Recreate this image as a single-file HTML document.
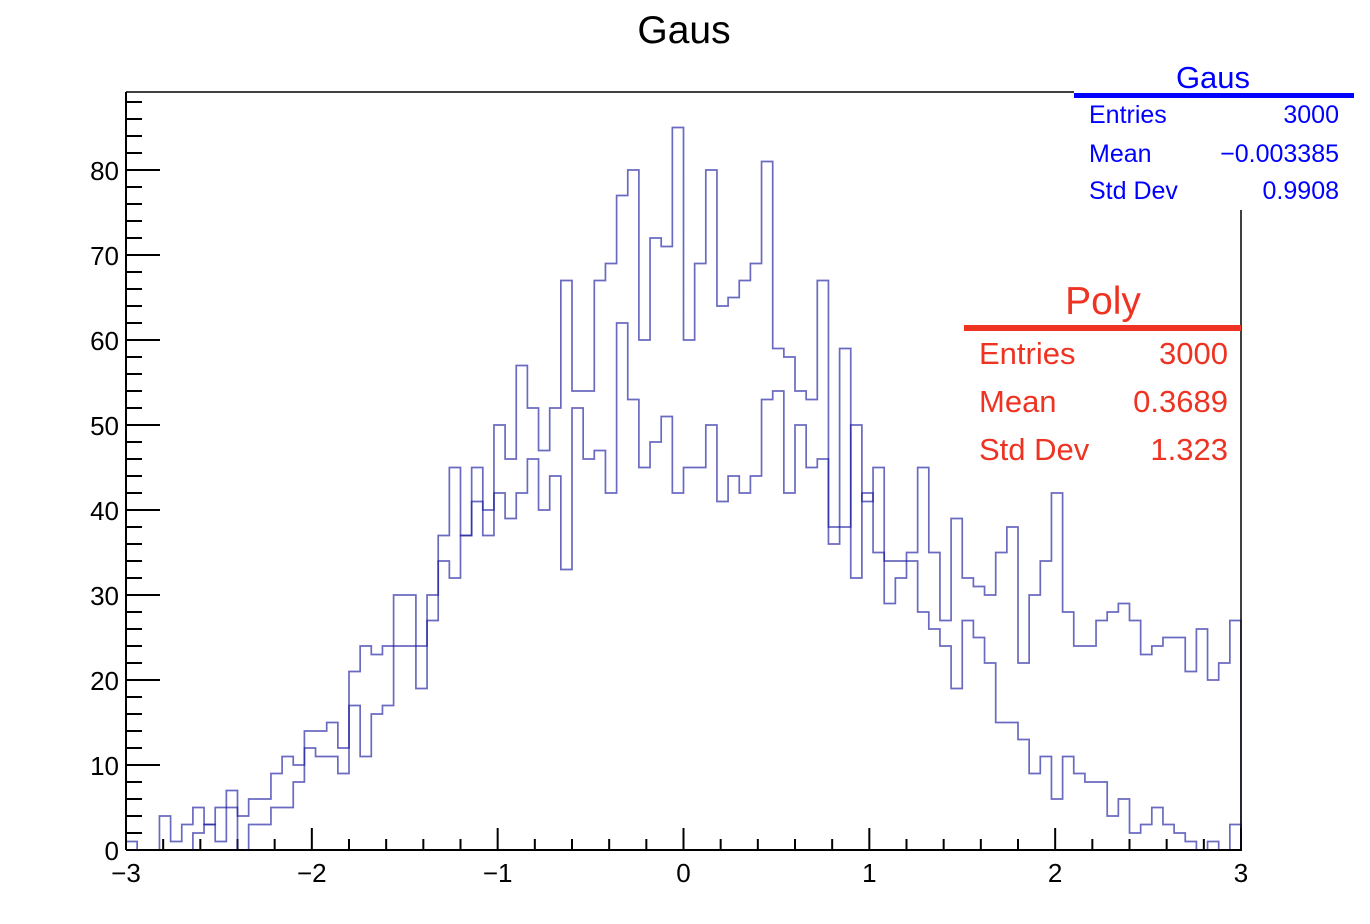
<!DOCTYPE html>
<html><head><meta charset="utf-8"><style>
html,body{margin:0;padding:0;background:#fff;}
svg{display:block;font-family:"Liberation Sans",Arial,sans-serif;}
</style></head><body>
<svg id="chart" width="1370" height="924" viewBox="0 0 1370 924" xmlns="http://www.w3.org/2000/svg">
<rect x="0" y="0" width="1370" height="924" fill="#fff"/>
<text x="684" y="43" font-size="39" text-anchor="middle" fill="#000">Gaus</text>
<g id="axes"></g>
<g id="series"></g>
<g id="frame">
<line x1="126" y1="92" x2="126" y2="850" stroke="#000" stroke-width="2"/>
<line x1="126" y1="850" x2="1242" y2="850" stroke="#000" stroke-width="2"/>
<line x1="126" y1="92" x2="1074" y2="92" stroke="#000" stroke-width="1.5"/>
<line x1="1241" y1="210" x2="1241" y2="850" stroke="#000" stroke-width="1.5"/>
</g>
<g>
<rect x="1074" y="56" width="280" height="154" fill="#fff"/>
<text x="1213" y="88" font-size="31" text-anchor="middle" fill="#0000ff">Gaus</text>
<rect x="1074" y="93" width="280" height="5" fill="#0000ff"/>
<text x="1089" y="123" font-size="25" fill="#0000ff">Entries</text>
<text x="1339" y="123" font-size="25" fill="#0000ff" text-anchor="end">3000</text>
<text x="1089" y="162" font-size="25" fill="#0000ff">Mean</text>
<text x="1339" y="162" font-size="25" fill="#0000ff" text-anchor="end">−0.003385</text>
<text x="1089" y="199" font-size="25" fill="#0000ff">Std Dev</text>
<text x="1339" y="199" font-size="25" fill="#0000ff" text-anchor="end">0.9908</text>
</g>
<g>
<rect x="964" y="280" width="276" height="190" fill="#fff"/>
<text x="1103" y="314" font-size="39" text-anchor="middle" fill="#ee3322">Poly</text>
<rect x="964" y="325" width="277" height="6" fill="#ee3322"/>
<text x="979" y="364" font-size="31" fill="#ee3322">Entries</text>
<text x="1228" y="364" font-size="31" fill="#ee3322" text-anchor="end">3000</text>
<text x="979" y="412" font-size="31" fill="#ee3322">Mean</text>
<text x="1228" y="412" font-size="31" fill="#ee3322" text-anchor="end">0.3689</text>
<text x="979" y="460" font-size="31" fill="#ee3322">Std Dev</text>
<text x="1228" y="460" font-size="31" fill="#ee3322" text-anchor="end">1.323</text>
</g>
</svg>
<script>
const xTickLabels = ["−3","−2","−1","0","1","2","3"];
const xTickValues = [-3,-2,-1,0,1,2,3];
const yTickLabels = ["0","10","20","30","40","50","60","70","80"];
const yTickValues = [0,10,20,30,40,50,60,70,80];
const gausCounts = [1,0,0,4,1,3,5,3,5,7,4,6,6,9,11,10,14,14,15,12,21,24,23,24,30,30,24,30,37,45,37,45,40,50,46,57,52,47,52,67,54,54,67,69,77,80,60,72,71,85,60,69,80,64,65,67,69,81,59,58,54,53,67,36,59,32,42,35,29,32,34,28,26,24,19,27,25,22,15,15,13,9,11,6,11,9,8,8,4,6,2,3,5,3,2,1,0,1,0,3];
const polyCounts = [0,0,0,0,0,0,2,3,1,5,0,3,3,5,5,8,12,11,11,9,17,11,16,17,24,24,19,27,34,32,37,41,37,42,39,42,46,40,44,33,52,46,47,42,62,53,45,48,51,42,45,45,50,41,44,42,44,53,54,42,50,45,46,38,38,50,41,45,34,34,35,45,35,27,39,32,31,30,35,38,22,30,34,42,28,24,24,27,28,29,27,23,24,25,25,21,26,20,22,27];
const xMin=-3, xMax=3, nBins=100;
const px0=126, px1=1241, py0=850, pyPerUnit=8.5;
function xs(v){return px0+(v-xMin)/(xMax-xMin)*(px1-px0);}
function ys(v){return py0-v*pyPerUnit;}
const NS="http://www.w3.org/2000/svg";
const axes=document.getElementById('axes');
const series=document.getElementById('series');
function mk(tag,attrs){const e=document.createElementNS(NS,tag);for(const k in attrs)e.setAttribute(k,attrs[k]);return e;}
for(let i=0;i<=30;i++){
  const v=xMin+i*0.2; const x=xs(v); const major=(i%5===0);
  const t=mk('line',{x1:x,y1:py0,x2:x,y2:py0-(major?22:11),stroke:'#000','stroke-width':2});
  
  
  axes.appendChild(t);
}
xTickValues.forEach((v,i)=>{
  const t=mk('text',{x:xs(v),y:882,'font-size':26,'text-anchor':'middle',fill:'#000'});
  t.textContent=xTickLabels[i];
  
  
  axes.appendChild(t);
});
for(let v=0;v<=88;v+=2){
  const y=ys(v); const major=(v%10===0);
  const t=mk('line',{x1:px0,y1:y,x2:px0+(major?34:16),y2:y,stroke:'#000','stroke-width':2});
  
  
  axes.appendChild(t);
}
yTickValues.forEach((v,i)=>{
  const t=mk('text',{x:119,y:ys(v)+10,'font-size':26,'text-anchor':'end',fill:'#000'});
  t.textContent=yTickLabels[i];
  
  
  axes.appendChild(t);
});
function stepPath(arr){
  const w=(xMax-xMin)/nBins;
  let d='M'+xs(xMin)+' '+ys(0);
  arr.forEach((c,i)=>{
    const a=xs(xMin+i*w), b=xs(xMin+(i+1)*w);
    d+=' L'+a+' '+ys(c)+' L'+b+' '+ys(c);
  });
  d+=' L'+xs(xMax)+' '+ys(0);
  return d;
}
const pg=mk('path',{d:stepPath(gausCounts),fill:'none',stroke:'#1a1aa0','stroke-opacity':0.65,'stroke-width':1.7});


series.appendChild(pg);
const pp=mk('path',{d:stepPath(polyCounts),fill:'none',stroke:'#1a1aa0','stroke-opacity':0.65,'stroke-width':1.7});


series.appendChild(pp);
</script>
</body></html>
